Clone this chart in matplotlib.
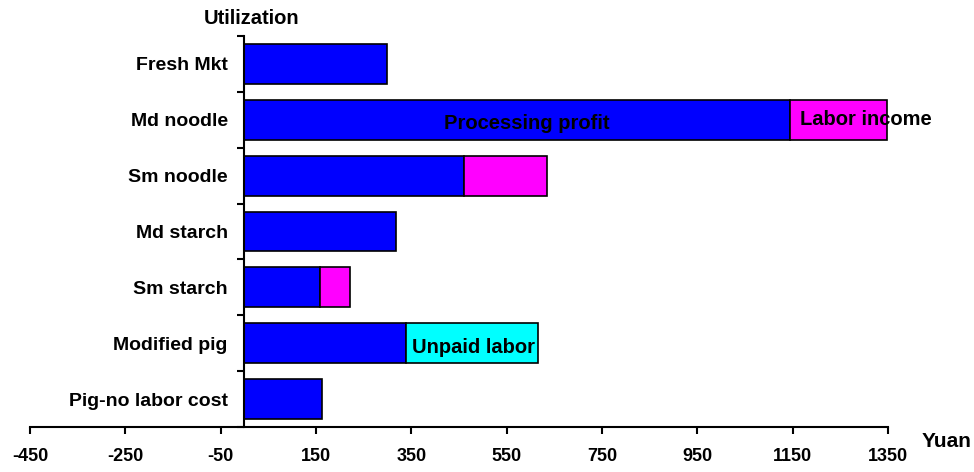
import numpy as np
import matplotlib
matplotlib.use('Agg')
import matplotlib.pyplot as plt
from matplotlib.patches import Rectangle

plt.rcParams['font.family'] = ['Liberation Sans', 'DejaVu Sans']
plt.rcParams['font.weight'] = 'bold'

# Utilization options, top to bottom
categories = ['Fresh Mkt', 'Md noodle', 'Sm noodle', 'Md starch',
              'Sm starch', 'Modified pig', 'Pig-no labor cost']
processing_profit = [300, 1145, 460, 318, 158, 339, 163]
labor_income = [0, 203, 175, 0, 63, 0, 0]
unpaid_labor = [0, 0, 0, 0, 0, 276, 0]
x_ticks = [-450, -250, -50, 150, 350, 550, 750, 950, 1150, 1350]

fig = plt.figure(figsize=(9.74, 4.72), dpi=100)
ax = fig.add_axes([0.0308, 0.0953, 0.8809, 0.8284])

y = np.arange(len(categories))
h = 0.714
proc = np.array(processing_profit, dtype=float)
lab = np.array(labor_income, dtype=float)
unp = np.array(unpaid_labor, dtype=float)

ax.barh(y, proc, height=h, color='#0000FF', edgecolor='black', linewidth=1.2, zorder=2)
m = lab > 0
ax.barh(y[m], lab[m], left=proc[m], height=h, color='#FF00FF', edgecolor='black', linewidth=1.2, zorder=2)
m = unp > 0
ax.barh(y[m], unp[m], left=proc[m], height=h, color='#00FFFF', edgecolor='black', linewidth=1.2, zorder=2)

# labels inside bars; the processing label is cut off at its baseline like the original
t = ax.text(593, 1.17, 'Processing profit', ha='center', va='baseline', fontsize=14.5,
            fontweight='bold', zorder=3)
clip = Rectangle((0, 1 - h / 2), 1400, 1.17 - (1 - h / 2), transform=ax.transData)
t.set_clip_path(clip)
ax.text(1165, 1.09, 'Labor income', ha='left', va='baseline', fontsize=14.5,
        fontweight='bold', zorder=3)
ax.text(481, 5.18, 'Unpaid labor', ha='center', va='baseline', fontsize=14.5,
        fontweight='bold', zorder=3)

ax.set_xlim(-450, 1350)
ax.set_ylim(len(categories) - 0.5, -0.5)

ax.spines['top'].set_visible(False)
ax.spines['right'].set_visible(False)
ax.spines['left'].set_position(('data', 0))
ax.spines['left'].set_linewidth(1.5)
ax.spines['bottom'].set_linewidth(1.5)
ax.spines['left'].set_zorder(4)

ax.set_xticks(x_ticks)
ax.set_xticklabels([str(v) for v in x_ticks])
ax.tick_params(axis='x', direction='out', length=5, width=1.5, pad=10, labelsize=13)

ax.set_yticks(y)
ax.set_yticklabels(categories)
ax.set_yticks(np.arange(len(categories) + 1) - 0.5, minor=True)
ax.tick_params(axis='y', which='major', length=0, pad=12, labelsize=14)
ax.tick_params(axis='y', which='minor', direction='out', length=5, width=1.5)

for lbl in ax.get_xticklabels() + ax.get_yticklabels():
    lbl.set_fontweight('bold')

fig.text(0.2587, 0.949, 'Utilization', ha='center', va='baseline', fontsize=14.5, fontweight='bold')
fig.text(0.9466, 0.053, 'Yuan', ha='left', va='baseline', fontsize=15, fontweight='bold')

fig.savefig('out.png', dpi=100)
